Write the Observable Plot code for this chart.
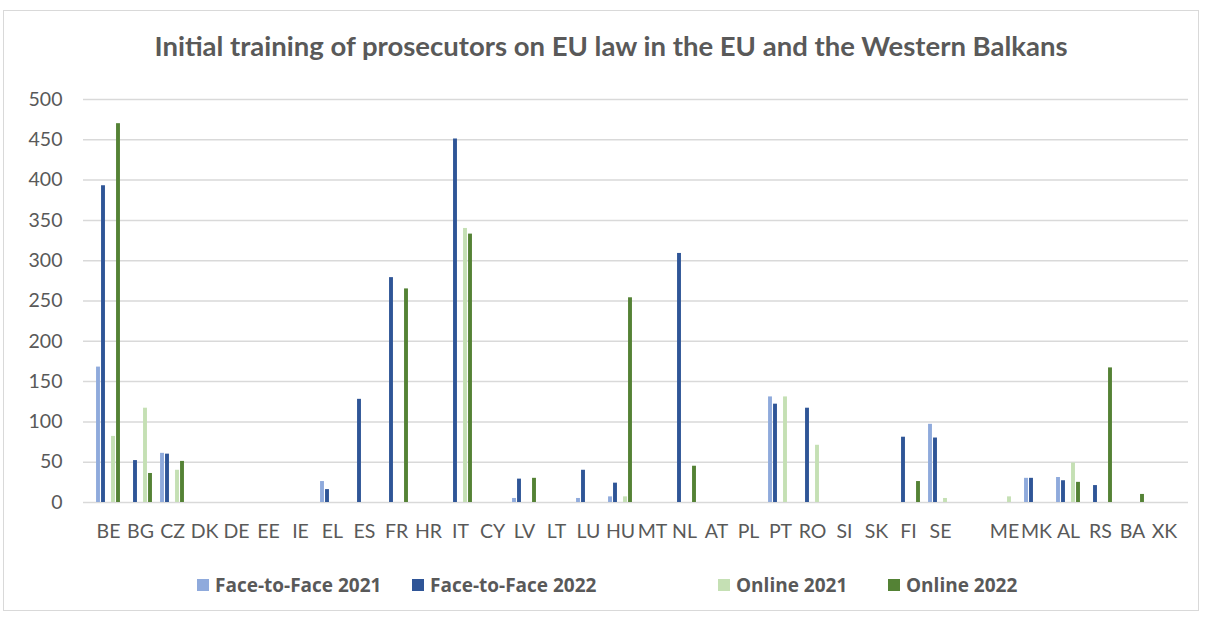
<!DOCTYPE html>
<html>
<head>
<meta charset="utf-8">
<script src="https://cdn.jsdelivr.net/npm/d3@7"></script>
<script src="https://cdn.jsdelivr.net/npm/@observablehq/plot@0.6"></script>
<style>
  html, body { margin: 0; padding: 0; background: #fff; }
  body { width: 1206px; height: 617px; position: relative; overflow: hidden; font-family: Lato, "Open Sans", sans-serif; }
  #frame { position: absolute; left: 3px; top: 10px; width: 1196px; height: 601px; border: 1px solid #d9d9d9; box-sizing: border-box; }
  #title { position: absolute; left: 0; width: 1222px; top: 29px; text-align: center; font-size: 27.5px; font-weight: bold; color: #595959; }
  #chart { position: absolute; left: 0px; top: 85px; width: 1206px; }
  #chart svg { max-width: none; }
  .leg { position: absolute; top: 572px; font-family: "Open Sans", sans-serif; font-size: 19px; font-weight: bold; color: #595959; display: flex; align-items: center; white-space: nowrap; }
  .leg span.sw { display: inline-block; width: 12px; height: 12px; margin-right: 6px; }
</style>
</head>
<body>
<div id="frame"></div>
<div id="title">Initial training of prosecutors on EU law in the EU and the Western Balkans</div>
<div id="chart"></div>
<div id="legend"></div>
<script>
const countries = ["BE","BG","CZ","DK","DE","EE","IE","EL","ES","FR","HR","IT","CY","LV","LT","LU","HU","MT","NL","AT","PL","PT","RO","SI","SK","FI","SE","_","ME","MK","AL","RS","BA","XK"];
const seriesNames = ["Face-to-Face 2021","Face-to-Face 2022","Online 2021","Online 2022"];
const seriesColors = ["#8faadc","#2f5597","#c5e0b4","#548235"];
const faceToFace2021 = [168,0,61,0,0,0,0,26,0,0,0,0,0,5,0,5,7,0,0,0,0,131,0,0,0,0,97,0,0,30,31,0,0,0];
const faceToFace2022 = [393,52,60,0,0,0,0,16,128,279,0,451,0,29,0,40,24,0,309,0,0,122,117,0,0,81,80,0,0,30,27,21,0,0];
const online2021     = [82,117,40,0,0,0,0,0,0,0,0,340,0,0,0,0,7,0,0,0,0,131,71,0,0,0,5,0,7,0,49,0,0,0];
const online2022     = [470,36,51,0,0,0,0,0,0,265,0,333,0,30,0,0,254,0,45,0,0,0,0,0,0,26,0,0,0,0,25,167,10,0];
const yTicks = [0,50,100,150,200,250,300,350,400,450,500];

const seriesValues = [faceToFace2021, faceToFace2022, online2021, online2022];

const W = 1206, mL = 83, mR = 18;
const band = (W - mL - mR) / countries.length;   // width of one category band
const barW = 4.4;
const slotOffsets = [-10, -5, 5, 10];              // bar centre offset within a category group

const barMarks = seriesNames.map((s, j) => {
  const rows = countries.map((c, i) => ({country: c, series: s, value: seriesValues[j][i]})).filter(d => d.value > 0);
  const off = slotOffsets[j];
  return Plot.barY(rows, {
    x: "country", y: "value", fill: "series",
    insetLeft: band / 2 + off - barW / 2,
    insetRight: band / 2 - off - barW / 2
  });
});

const chart = Plot.plot({
  width: W,
  height: 470,
  marginLeft: mL,
  marginRight: mR,
  marginTop: 14,
  marginBottom: 53,
  style: {fontFamily: "Lato, 'Open Sans', sans-serif", fontSize: "19.5px", color: "#595959", background: "transparent"},
  x: {domain: countries, padding: 0, label: null},
  y: {domain: [0, 500], label: null},
  color: {domain: seriesNames, range: seriesColors},
  marks: [
    Plot.gridY(yTicks, {stroke: "#d9d9d9", strokeOpacity: 1, strokeWidth: 1.5}),
    Plot.axisY(yTicks, {tickSize: 0, tickPadding: 21, label: null, fill: "#595959"}),
    Plot.axisX({tickSize: 0, tickPadding: 22, label: null, fill: "#595959", tickFormat: d => d === "_" ? "" : d}),
    ...barMarks
  ]
});
document.getElementById("chart").appendChild(chart);

const legendPos = [197, 412, 718, 888];
const legend = document.getElementById("legend");
seriesNames.forEach((s, i) => {
  const d = document.createElement("div");
  d.className = "leg";
  d.style.left = legendPos[i] + "px";
  d.innerHTML = `<span class="sw" style="background:${seriesColors[i]}"></span>${s}`;
  legend.appendChild(d);
});
</script>
</body>
</html>
